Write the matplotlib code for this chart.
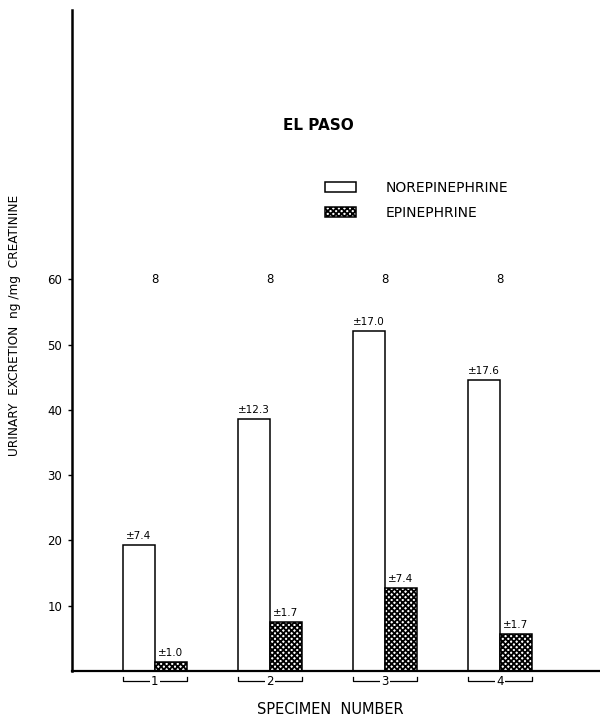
import matplotlib
matplotlib.use("Agg")
import matplotlib.pyplot as plt
from matplotlib.patches import Patch
import numpy as np

plt.rcParams['font.family'] = ['DejaVu Sans']
plt.rcParams['hatch.linewidth'] = 1.3

specimens = ["1", "2", "3", "4"]
norepinephrine = [19.3, 38.6, 52.1, 44.6]
epinephrine = [1.4, 7.5, 12.7, 5.7]
ne_err = ["±7.4", "±12.3", "±17.0", "±17.6"]
e_err = ["±1.0", "±1.7", "±7.4", "±1.7"]
n_counts = ["8", "8", "8", "8"]
yticks = [10, 20, 30, 40, 50, 60]

W, H = 600, 717
fig = plt.figure(figsize=(W / 100, H / 100), dpi=100)
ax = fig.add_axes([72 / W, (H - 671) / H, (W - 72) / W, (671 - 10) / H])

x = np.arange(1, len(specimens) + 1)
bw = 0.28
hatch = 'xxxxxx'

ax.bar(x - bw / 2, norepinephrine, width=bw, facecolor='white', edgecolor='black', linewidth=1.1, zorder=2)
ax.bar(x + bw / 2, epinephrine, width=bw, facecolor='white', edgecolor='black', linewidth=1.1, hatch=hatch, zorder=2)

for xi, v, t in zip(x, norepinephrine, ne_err):
    ax.text(xi - bw / 2, v + 0.6, t, ha='center', va='bottom', fontsize=7.5)
for xi, v, t in zip(x, epinephrine, e_err):
    ax.text(xi + bw / 2, v + 0.6, t, ha='center', va='bottom', fontsize=7.5)
for xi, t in zip(x, n_counts):
    ax.text(xi, 60, t, ha='center', va='center', fontsize=8.5)

# brackets under each specimen
for xi, lab in zip(x, specimens):
    l, r = xi - bw, xi + bw
    yb, yt = -1.6, -0.9
    ax.plot([l, l, r, r], [yt, yb, yb, yt], color='black', lw=0.9, clip_on=False)
    ax.text(xi, yb, lab, ha='center', va='center', fontsize=8.5,
            bbox=dict(facecolor='white', edgecolor='none', pad=1.0), clip_on=False)

ax.set_xlim(0.28, 0.28 + (W - 72) / 115)
ax.set_ylim(0, (671 - 10) / 6.53)
ax.set_xticks([])
ax.set_yticks(yticks)
ax.set_yticklabels([str(v) for v in yticks], fontsize=8.5)
ax.tick_params(axis='y', direction='out', length=3, width=1, pad=4)

for s in ['top', 'right']:
    ax.spines[s].set_visible(False)
ax.spines['left'].set_linewidth(1.8)
ax.spines['bottom'].set_linewidth(1.6)

fig.text(15 / W, 1 - 325 / H, "URINARY  EXCRETION  ng /mg  CREATININE", rotation=90,
         ha='center', va='center', fontsize=8.7)
fig.text(330 / W, 1 - 710 / H, "SPECIMEN  NUMBER", ha='center', va='center', fontsize=10.5)
fig.text(318 / W, 1 - 125 / H, "EL PASO", ha='center', va='center', fontsize=11, fontweight='bold')

handles = [Patch(facecolor='white', edgecolor='black', linewidth=1.1, label='NOREPINEPHRINE'),
           Patch(facecolor='white', edgecolor='black', linewidth=1.1, hatch=hatch, label='EPINEPHRINE')]
fig.legend(handles=handles, loc='upper left', bbox_to_anchor=(325 / W, 1 - 181 / H),
           frameon=False, fontsize=10, handlelength=2.2, handleheight=0.7,
           handletextpad=2.2, labelspacing=0.8, borderpad=0, borderaxespad=0)

fig.savefig("out.png", dpi=100)
